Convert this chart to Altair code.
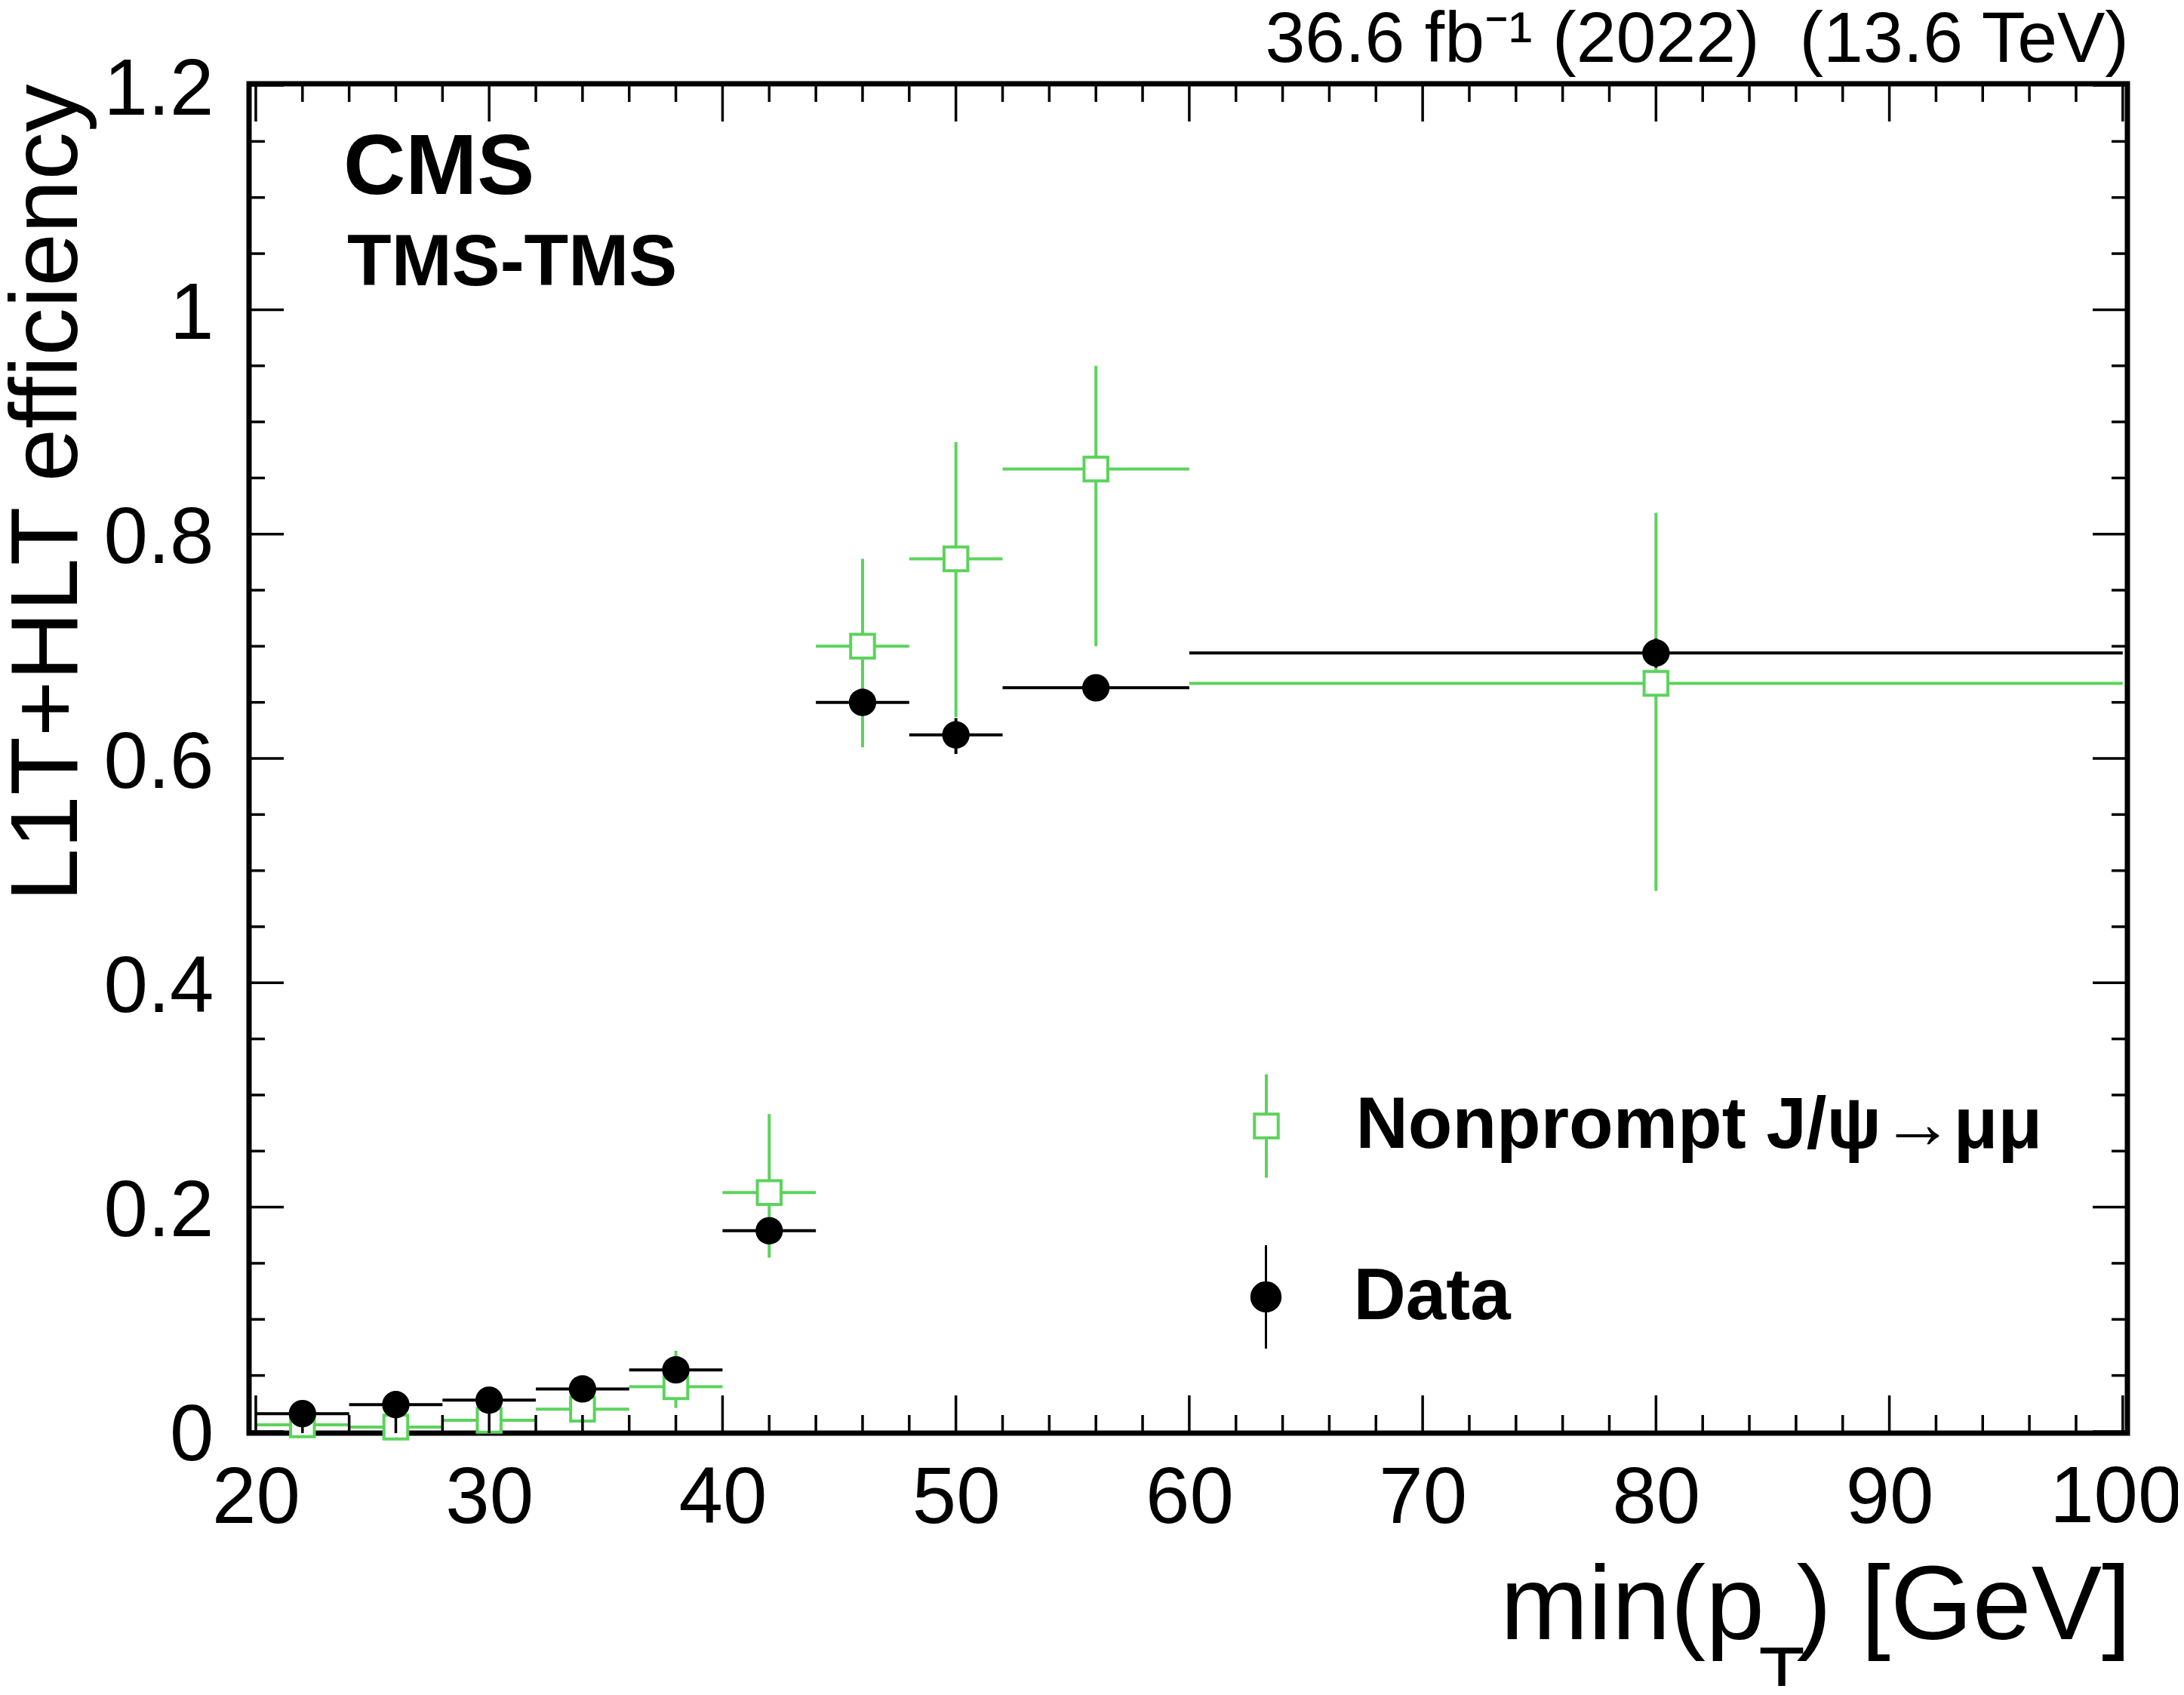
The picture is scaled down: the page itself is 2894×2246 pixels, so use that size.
import altair as alt
import pandas as pd

FONT = "Liberation Sans"
GREEN = "#5bd35b"

# ---- data ----
x_center = [22, 26, 30, 34, 38, 42, 46, 50, 56, 80]
x_low = [20, 24, 28, 32, 36, 40, 44, 48, 52, 60]
x_high = [24, 28, 32, 36, 40, 44, 48, 52, 60, 100]

data_eff = [0.016, 0.024, 0.028, 0.038, 0.055, 0.179, 0.650, 0.621, 0.663, 0.694]
data_lo = [0.013, 0.021, 0.025, 0.035, 0.051, 0.170, 0.638, 0.604, 0.652, 0.681]
data_hi = [0.019, 0.027, 0.031, 0.041, 0.059, 0.188, 0.662, 0.636, 0.674, 0.707]

mc_eff = [0.006, 0.004, 0.010, 0.020, 0.040, 0.213, 0.700, 0.778, 0.858, 0.667]
mc_lo = [0.002, 0.001, 0.005, 0.013, 0.021, 0.155, 0.610, 0.637, 0.700, 0.482]
mc_hi = [0.010, 0.008, 0.016, 0.028, 0.072, 0.283, 0.778, 0.882, 0.950, 0.819]

mc_label = "Nonprompt J/ψ→μμ"
data_label = "Data"

x_major = [20, 30, 40, 50, 60, 70, 80, 90, 100]
x_minor = [22, 24, 26, 28, 32, 34, 36, 38, 42, 44, 46, 48, 52, 54, 56, 58,
           62, 64, 66, 68, 72, 74, 76, 78, 82, 84, 86, 88, 92, 94, 96, 98]
y_major = [0, 0.2, 0.4, 0.6, 0.8, 1.0, 1.2]
y_minor = [0.05, 0.1, 0.15, 0.25, 0.3, 0.35, 0.45, 0.5, 0.55, 0.65, 0.7, 0.75,
           0.85, 0.9, 0.95, 1.05, 1.1, 1.15]

y_title = "L1T+HLT efficiency"
x_title_parts = ["min(p", "T", ") [GeV]"]
cms_text = "CMS"
sel_text = "TMS-TMS"
lumi_text = "36.6 fb⁻¹ (2022)\u00a0 (13.6 TeV)"

# ---- tables ----
df = pd.DataFrame({
    "x": x_center, "xlo": x_low, "xhi": x_high,
    "data": data_eff, "data_lo": data_lo, "data_hi": data_hi,
    "mc": mc_eff, "mc_lo": mc_lo, "mc_hi": mc_hi,
    "mc_series": [mc_label] * len(x_center),
    "data_series": [data_label] * len(x_center),
})
xmaj = pd.DataFrame({"v": x_major})
xmin = pd.DataFrame({"v": x_minor})
ymaj = pd.DataFrame({"v": y_major})
ymin = pd.DataFrame({"v": y_minor})
xlast = pd.DataFrame({"v": x_major[-1:]})

W, H = 2489, 1788
LABEL_FS = 105
XLAB_PAD = 35

xscale = alt.Scale(domain=[19.71, 100.2], nice=False, zero=False)
yscale = alt.Scale(domain=[-0.0014, 1.2014], nice=False, zero=False)

# the last x label (at the page edge) is drawn by a text layer nudged inward
x_axis = alt.Axis(values=x_major, format="d", labelFlush=False, labelPadding=XLAB_PAD,
                  labelFontSize=LABEL_FS, labelFont=FONT, labelColor="black",
                  labelExpr=f"datum.value === {x_major[-1]} ? '' : datum.label",
                  domain=False, ticks=False, tickSize=0, grid=False, labelOverlap=False)
y_axis = alt.Axis(values=y_major, format="~g", labelFlush=False, labelPadding=47, labelOffset=6,
                  labelFontSize=LABEL_FS, labelFont=FONT, labelColor="black",
                  domain=False, ticks=False, tickSize=0, grid=False, labelOverlap=False,
                  titleX=-229, titleY=0, titleAngle=270, titleAlign="right",
                  titleBaseline="alphabetic", titleAnchor="end",
                  titleFont=FONT, titleFontSize=127, titleFontWeight="normal", titleColor="black")


def X(f):
    return alt.X(f, type="quantitative", scale=xscale, axis=x_axis, title=None)


def Y(f):
    return alt.Y(f, type="quantitative", scale=yscale, axis=y_axis, title=y_title)


base = alt.Chart(df)
LW = 4

mc_v = base.mark_rule(color=GREEN, strokeWidth=LW).encode(x=X("x"), y=Y("mc_lo"), y2="mc_hi")
mc_h = base.mark_rule(color=GREEN, strokeWidth=LW).encode(x=X("xlo"), x2="xhi", y=Y("mc"))

MC_PATH = "M-0.23,-0.23H0.23V0.23H-0.23Z M0,-0.23V-1 M0,0.23V1"
DATA_PATH = "M-0.28,0 A0.28,0.28 0 1 0 0.28,0 A0.28,0.28 0 1 0 -0.28,0 Z M0,-0.28 V-1 M0,0.28 V1"

mc_pts = base.mark_point(shape="square", size=992, filled=False, fill="white",
                         strokeWidth=LW, opacity=1).encode(
    x=X("x"), y=Y("mc"),
    color=alt.Color("mc_series:N", scale=alt.Scale(domain=[mc_label], range=[GREEN]),
                    legend=alt.Legend(title=None, orient="none", legendX=1277.5, legendY=1310.5,
                                      padding=0, symbolType=MC_PATH, symbolSize=18769,
                                      symbolStrokeWidth=LW, symbolFillColor="white",
                                      labelFont=FONT, labelFontSize=96, labelFontWeight="bold",
                                      labelColor="black", labelOffset=48, labelLimit=3000)))

d_v = base.mark_rule(color="black", strokeWidth=LW).encode(x=X("x"), y=Y("data_lo"), y2="data_hi")
d_h = base.mark_rule(color="black", strokeWidth=LW).encode(x=X("xlo"), x2="xhi", y=Y("data"))
d_pts = base.mark_circle(size=1320, opacity=1).encode(
    x=X("x"), y=Y("data"),
    color=alt.Color("data_series:N", scale=alt.Scale(domain=[data_label], range=["black"]),
                    legend=alt.Legend(title=None, orient="none", legendX=1277.5, legendY=1537.5,
                                      padding=0, symbolType=DATA_PATH, symbolSize=18769,
                                      symbolStrokeWidth=3, symbolStrokeColor="black",
                                      labelFont=FONT, labelFontSize=96, labelFontWeight="bold",
                                      labelColor="black", labelOffset=46, labelLimit=3000)))

TW = 3.5


def xticks(d, length):
    bot = alt.Chart(d).mark_rule(color="black", strokeWidth=TW).encode(
        x=X("v"), y=alt.value(H), y2=alt.value(H - length))
    top = alt.Chart(d).mark_rule(color="black", strokeWidth=TW).encode(
        x=X("v"), y=alt.value(0), y2=alt.value(length))
    return [bot, top]


def yticks(d, length):
    left = alt.Chart(d).mark_rule(color="black", strokeWidth=TW).encode(
        y=Y("v"), x=alt.value(0), x2=alt.value(length))
    right = alt.Chart(d).mark_rule(color="black", strokeWidth=TW).encode(
        y=Y("v"), x=alt.value(W), x2=alt.value(W - length))
    return [left, right]


def text_layer(txt, x, y, size, weight="normal", align="left", baseline="alphabetic"):
    return alt.Chart(pd.DataFrame({"t": [txt]})).mark_text(
        font=FONT, fontSize=size, fontWeight=weight, align=align, baseline=baseline,
        color="black").encode(x=alt.value(x), y=alt.value(y), text="t:N")


last_label = alt.Chart(xlast).mark_text(
    font=FONT, fontSize=LABEL_FS, align="center", baseline="top", dx=-9, color="black"
).encode(x=X("v"), y=alt.value(H + XLAB_PAD), text=alt.Text("v:Q", format="d"))

layers = [mc_v, mc_h, mc_pts, d_v, d_h, d_pts]
layers += xticks(xmaj, 50) + xticks(xmin, 24) + yticks(ymaj, 46) + yticks(ymin, 21)
layers += [
    last_label,
    text_layer(cms_text, 125, 146, 114, weight="bold"),
    text_layer(sel_text, 130, 267, 96, weight="bold"),
    text_layer(lumi_text, 2491, -29, 95, align="right"),
    text_layer(x_title_parts[0], 1658, 2061, 140),
    text_layer(x_title_parts[1], 2031, 2141, 100, align="center"),
    text_layer(x_title_parts[2], 2494, 2061, 140, align="right"),
]

chart = alt.layer(*layers).resolve_scale(color="independent").properties(
    width=W, height=H,
    autosize=alt.AutoSizeParams(type="none"),
    padding={"left": 322, "top": 103, "right": 67, "bottom": 335},
    background="white",
).configure_view(stroke="black", strokeWidth=7)

chart.save("out.html", embed_options={"renderer": "svg", "actions": False})
